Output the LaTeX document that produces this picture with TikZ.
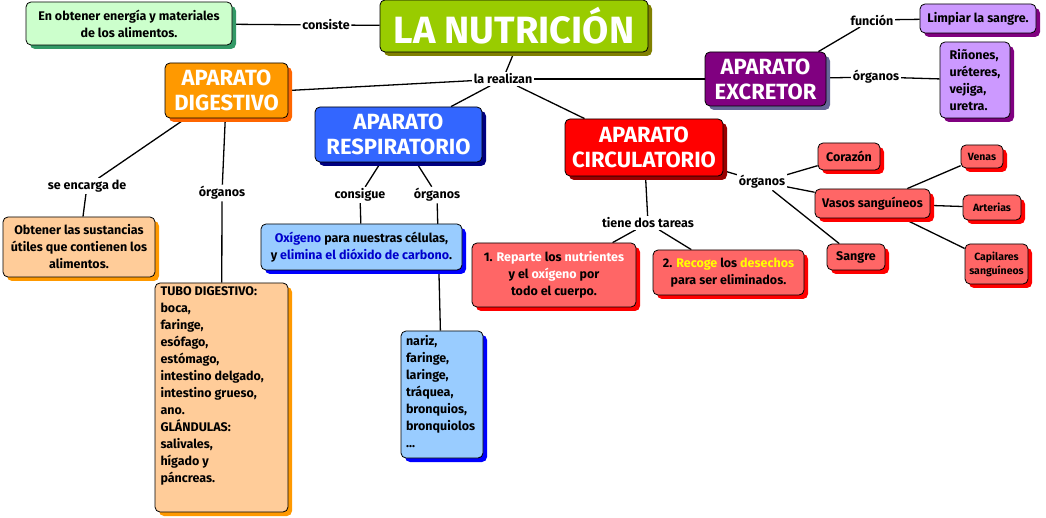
\documentclass[tikz,border=0pt]{standalone}
\usepackage{fontspec}
\setmainfont{Fira Sans}
\usepackage{tikz}
\usetikzlibrary{shadows}

\definecolor{mint}{HTML}{CCFFCC}
\definecolor{mintdark}{HTML}{339966}
\definecolor{lime}{HTML}{99CC00}
\definecolor{limedark}{HTML}{808000}
\definecolor{orng}{HTML}{FF9900}
\definecolor{orngdark}{HTML}{FF6600}
\definecolor{peach}{HTML}{FFCC99}
\definecolor{royal}{HTML}{3366FF}
\definecolor{navy}{HTML}{000080}
\definecolor{sky}{HTML}{99CCFF}
\definecolor{pureblue}{HTML}{0000FF}
\definecolor{oxblue}{HTML}{0000CC}
\definecolor{scarlet}{HTML}{FF0000}
\definecolor{scarletdark}{HTML}{990000}
\definecolor{salmon}{HTML}{FF6666}
\definecolor{plum}{HTML}{800080}
\definecolor{plumgrey}{HTML}{666699}
\definecolor{lilac}{HTML}{CC99FF}
\definecolor{sunny}{HTML}{FFFF00}

\pgfdeclarelayer{background}
\pgfsetlayers{background,main}

\tikzset{
  cbox/.style 2 args={draw, line width=0.8pt, rounded corners=5pt, fill=#1,
    drop shadow={shadow xshift=4pt, shadow yshift=-4pt, fill=#2, opacity=1},
    align=center, inner sep=2pt},
  smalltxt/.style={font=\fontsize{12.5}{17}\selectfont\bfseries},
  tinytxt/.style={font=\fontsize{10.5}{14}\selectfont\bfseries},
  bigtxt/.style={font=\fontsize{22}{25}\selectfont\bfseries, text=white},
  link/.style={fill=white, inner sep=1.5pt, font=\fontsize{12.5}{14}\selectfont\bfseries},
  conn/.style={line width=1.3pt}
}

\begin{document}
\begin{tikzpicture}[x=1pt, y=-1pt]
    \useasboundingbox (0,0) rectangle (1046,518);

    % Main concept and its definition
    \node[cbox={lime}{limedark}, minimum width=268pt, minimum height=52pt, font=\fontsize{38}{40}\selectfont\bfseries, text=white] (Nutricion) at (514,26) {LA NUTRICIÓN};
    \node[cbox={mint}{mintdark}, smalltxt, minimum width=206pt, minimum height=43pt] (Definicion) at (129,23.5) {En obtener energía y materiales\\de los alimentos.};

    % The four systems
    \node[cbox={orng}{orngdark}, bigtxt, minimum width=123pt, minimum height=55pt] (Digestivo) at (226.5,90.5) {APARATO\\DIGESTIVO};
    \node[cbox={royal}{navy}, bigtxt, minimum width=167pt, minimum height=55pt] (Respiratorio) at (398.5,134.5) {APARATO\\RESPIRATORIO};
    \node[cbox={scarlet}{scarletdark}, bigtxt, minimum width=158pt, minimum height=57pt] (Circulatorio) at (644,147.5) {APARATO\\CIRCULATORIO};
    \node[cbox={plum}{plumgrey}, bigtxt, minimum width=121pt, minimum height=54pt] (Excretor) at (765.5,79) {APARATO\\EXCRETOR};

    % Excretor details
    \node[cbox={lilac}{plum}, smalltxt, minimum width=116pt, minimum height=29pt] (Limpiar) at (978,18.5) {Limpiar la sangre.};
    \node[cbox={lilac}{plum}, smalltxt, minimum width=70pt, minimum height=76pt, align=left] (Rinones) at (975,80) {Riñones,\\uréteres,\\vejiga,\\uretra.};

    % Digestivo details
    \node[cbox={peach}{orng}, smalltxt, minimum width=152pt, minimum height=60pt] (Obtener) at (79,247) {Obtener las sustancias\\útiles que contienen los\\alimentos.};
    \node[cbox={peach}{orng}, smalltxt, minimum width=133pt, minimum height=229pt] (Tubo) at (221.5,397.5)
        {\parbox[c][221pt][t]{122pt}{\raggedright TUBO DIGESTIVO:\\boca,\\faringe,\\esófago,\\estómago,\\intestino delgado,\\intestino grueso,\\ano.\\GLÁNDULAS:\\salivales,\\hígado y\\páncreas.}};

    % Respiratorio details
    \node[cbox={sky}{pureblue}, smalltxt, minimum width=201pt, minimum height=46pt] (Oxigeno) at (361.5,247) {\textcolor{oxblue}{Oxígeno} para nuestras células,\\y \textcolor{oxblue}{elimina el dióxido de carbono}.};
    \node[cbox={sky}{pureblue}, smalltxt, minimum width=82pt, minimum height=127pt] (Nariz) at (442,394.5)
        {\parbox[c][119pt][t]{72pt}{\raggedright nariz,\\faringe,\\laringe,\\tráquea,\\bronquios,\\bronquiolos\\...}};

    % Circulatorio details
    \node[cbox={salmon}{scarlet}, smalltxt, minimum width=164pt, minimum height=64pt] (Tarea1) at (554,275) {1. \textcolor{white}{Reparte} los \textcolor{white}{nutrientes}\\y el \textcolor{white}{oxígeno} por\\todo el cuerpo.};
    \node[cbox={salmon}{scarlet}, smalltxt, minimum width=151pt, minimum height=45pt] (Tarea2) at (728.5,272.5) {2. \textcolor{sunny}{Recoge} los \textcolor{sunny}{desechos}\\para ser eliminados.};
    \node[cbox={salmon}{scarlet}, smalltxt, minimum width=62pt, minimum height=27pt] (Corazon) at (849,156.5) {Corazón};
    \node[cbox={salmon}{scarlet}, smalltxt, minimum width=115pt, minimum height=29pt] (Vasos) at (872.5,203.5) {Vasos sanguíneos};
    \node[cbox={salmon}{scarlet}, smalltxt, minimum width=58pt, minimum height=26pt] (Sangre) at (856,257) {Sangre};
    \node[cbox={salmon}{scarlet}, tinytxt, minimum width=42pt, minimum height=23pt] (Venas) at (982,156.5) {Venas};
    \node[cbox={salmon}{scarlet}, tinytxt, minimum width=58pt, minimum height=25pt] (Arterias) at (992,207.5) {Arterias};
    \node[cbox={salmon}{scarlet}, tinytxt, minimum width=63pt, minimum height=40pt] (Capilares) at (996.5,264) {Capilares\\sanguíneos};

    % Linking words
    \node[link] (Consiste) at (326,25) {consiste};
    \node[link] (Realizan) at (503,79) {la realizan};
    \node[link] (Funcion) at (872,20) {función};
    \node[link] (OrgExc) at (876,77) {órganos};
    \node[link] (Encarga) at (87,186) {se encarga de};
    \node[link] (OrgDig) at (222,193) {órganos};
    \node[link] (Consigue) at (360,195) {consigue};
    \node[link] (OrgResp) at (437,195) {órganos};
    \node[link] (Tareas) at (648,223) {tiene dos tareas};
    \node[link] (OrgCirc) at (762,182) {órganos};

    % Connectors behind the boxes
    \begin{pgfonlayer}{background}
        \draw[conn] (Definicion) -- (Consiste) -- (Nutricion);
        \draw[conn] (Nutricion.south -| 514,0) -- (Realizan);
        \draw[conn] (Realizan) -- (Digestivo.east);
        \draw[conn] (Realizan) -- (Excretor.west);
        \draw[conn] (Realizan) -- (Respiratorio);
        \draw[conn] (Realizan) -- (Circulatorio);
        \draw[conn] ([xshift=-8pt]Excretor.north east) -- (Funcion) -- (Limpiar);
        \draw[conn] (Excretor) -- (OrgExc) -- (Rinones);
        \draw[conn] (Digestivo) -- (Encarga) -- (Obtener);
        \draw[conn] (Digestivo) -- (OrgDig) -- (Tubo);
        \draw[conn] (Respiratorio) -- (Consigue) -- (Oxigeno);
        \draw[conn] (Respiratorio) -- (OrgResp) -- (Nariz);
        \draw[conn] (Circulatorio) -- (Tareas);
        \draw[conn] (Tareas) -- (Tarea1);
        \draw[conn] (Tareas) -- (Tarea2);
        \draw[conn] (Circulatorio) -- (OrgCirc);
        \foreach \o in {Corazon, Vasos, Sangre}
            \draw[conn] (OrgCirc) -- (\o);
        \foreach \v in {Venas, Arterias, Capilares}
            \draw[conn] (Vasos) -- (\v);
    \end{pgfonlayer}
\end{tikzpicture}
\end{document}
